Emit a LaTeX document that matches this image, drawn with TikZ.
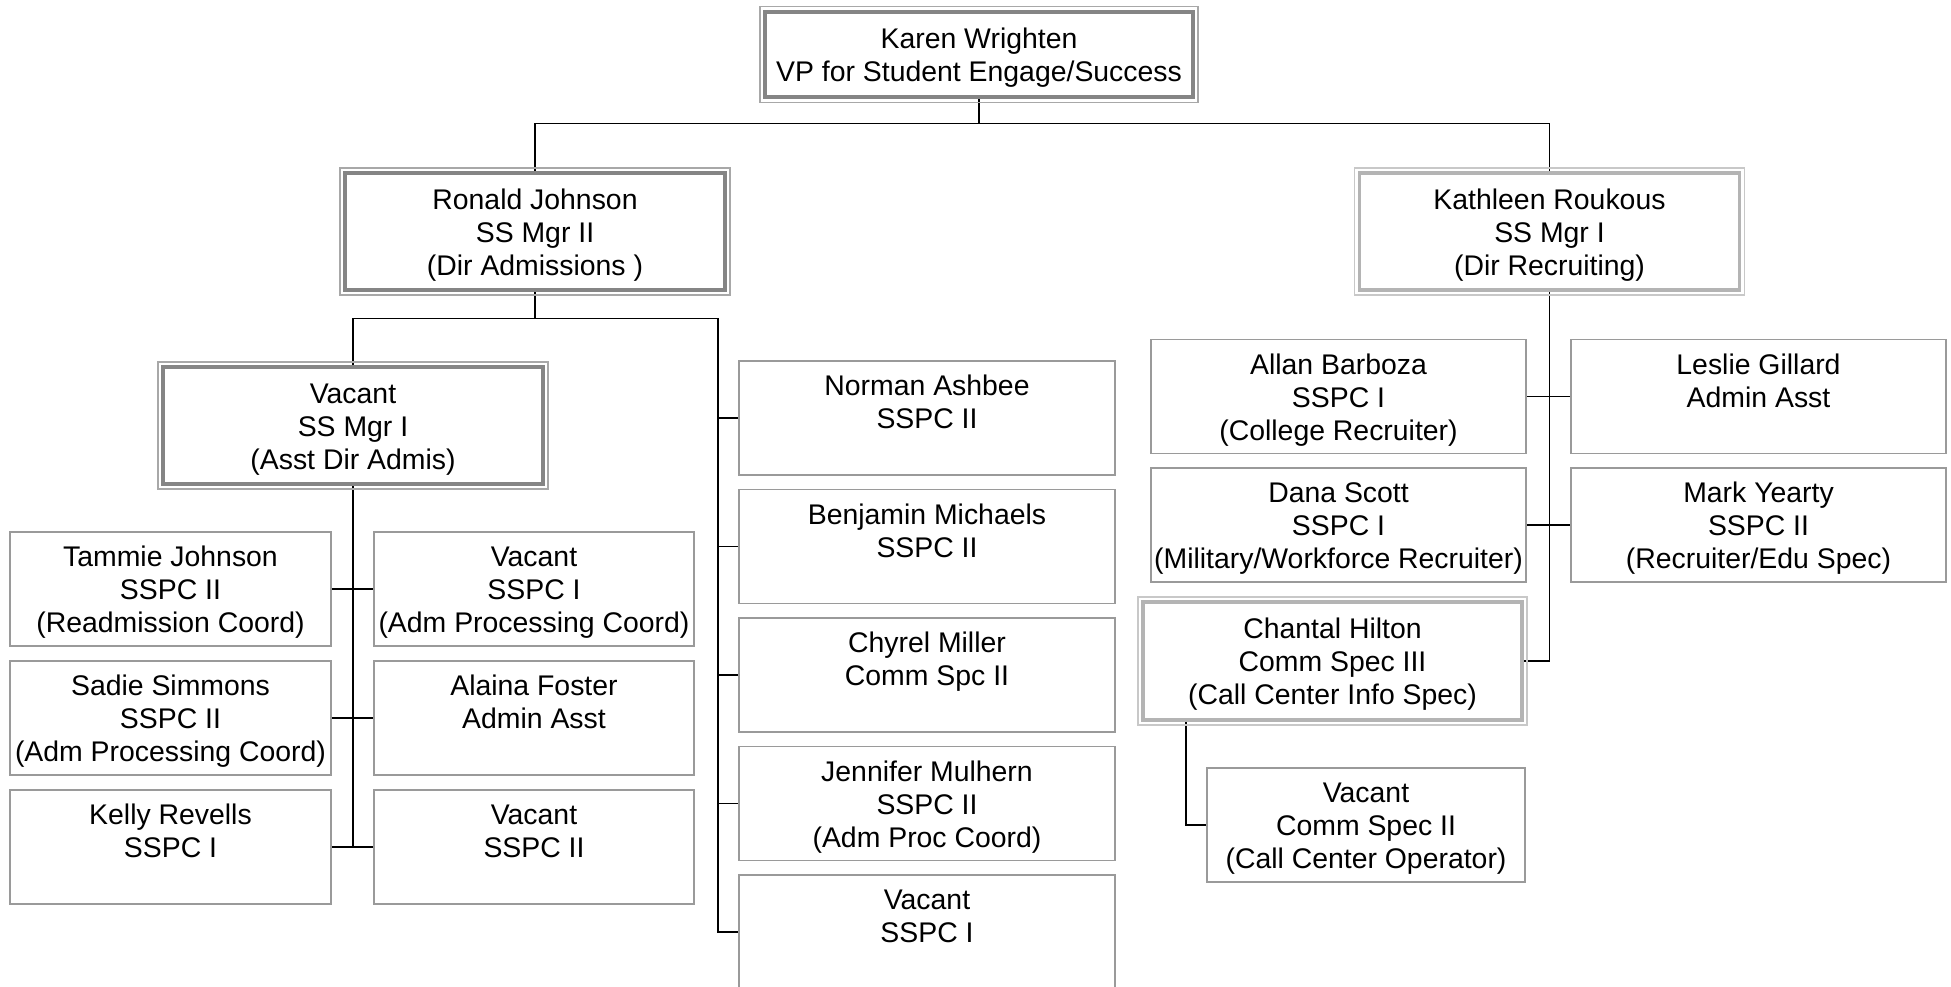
\documentclass[tikz,border=0pt]{standalone}
\usepackage{fontspec}
\setmainfont{Liberation Sans}
\usetikzlibrary{backgrounds}
\definecolor{boxgray}{HTML}{9A9A9A}
\definecolor{darkband}{HTML}{858585}
\definecolor{darkouter}{HTML}{A8A8A8}
\definecolor{lightband}{HTML}{B4B4B4}
\definecolor{lightouter}{HTML}{C8C8C8}
\newcommand{\emptyline}{\vphantom{(}}
\newcommand{\ft}{\rule{0pt}{27.5pt}}
\begin{document}
\begin{tikzpicture}[x=1pt,y=-1pt,
  txt/.style={font=\fontsize{28.4}{33}\selectfont, align=center, inner xsep=2pt, inner ysep=2pt},
  pbox/.style={txt, draw=boxgray, line width=1.3pt, fill=white, minimum height=114pt},
  mgrbox/.style={txt, draw=#1, line width=3.6pt, fill=white, outer sep=0pt},
  outerframe/.style={draw=#1, line width=1.3pt},
  conn/.style={draw=black, line width=1.8pt}]
\useasboundingbox (0,0) rectangle (1951,987);

% managers
\node[mgrbox=darkband, minimum width=428pt, minimum height=85.5pt] (top) at (979,54.5) {\ft Karen Wrighten\\VP for Student Engage/Success};
\node[mgrbox=darkband, minimum width=380pt, minimum height=117pt] (ron) at (535,231.5) {\ft Ronald Johnson\\SS Mgr II\\(Dir Admissions )};
\node[mgrbox=lightband, minimum width=380pt, minimum height=117pt] (kat) at (1549.5,231.5) {\ft Kathleen Roukous\\SS Mgr I\\(Dir Recruiting)};
\node[mgrbox=darkband, minimum width=380pt, minimum height=117pt] (asst) at (353,425.5) {\ft Vacant\\SS Mgr I\\(Asst Dir Admis)};
\node[mgrbox=lightband, minimum width=379pt, minimum height=118pt] (chan) at (1332.5,661) {\ft Chantal Hilton\\Comm Spec III\\(Call Center Info Spec)};

\foreach \n/\c in {top/darkouter, ron/darkouter, asst/darkouter, kat/lightouter, chan/lightouter}
  \draw[outerframe=\c] ([shift={(-5pt,5pt)}]\n.north west) rectangle ([shift={(5pt,-5pt)}]\n.south east);

% left group under Asst Dir
\node[pbox, minimum width=321pt] (l1) at (170.5,589) {\ft Tammie Johnson\\SSPC II\\(Readmission Coord)};
\node[pbox, minimum width=320pt] (r1) at (534,589) {\ft Vacant\\SSPC I\\(Adm Processing Coord)};
\node[pbox, minimum width=321pt] (l2) at (170.5,718) {\ft Sadie Simmons\\SSPC II\\(Adm Processing Coord)};
\node[pbox, minimum width=320pt] (r2) at (534,718) {\ft Alaina Foster\\Admin Asst\\\emptyline};
\node[pbox, minimum width=321pt] (l3) at (170.5,847) {\ft Kelly Revells\\SSPC I\\\emptyline};
\node[pbox, minimum width=320pt] (r3) at (534,847) {\ft Vacant\\SSPC II\\\emptyline};

% middle column under Ronald
\node[pbox, minimum width=376pt] (m1) at (927,418) {\ft Norman Ashbee\\SSPC II\\\emptyline};
\node[pbox, minimum width=376pt] (m2) at (927,546.5) {\ft Benjamin Michaels\\SSPC II\\\emptyline};
\node[pbox, minimum width=376pt] (m3) at (927,675) {\ft Chyrel Miller\\Comm Spc II\\\emptyline};
\node[pbox, minimum width=376pt] (m4) at (927,803.5) {\ft Jennifer Mulhern\\SSPC II\\(Adm Proc Coord)};
\node[pbox, minimum width=376pt] (m5) at (927,932) {\ft Vacant\\SSPC I\\\emptyline};

% right group under Kathleen
\node[pbox, minimum width=375pt] (k1) at (1338.5,396.5) {\ft Allan Barboza\\SSPC I\\(College Recruiter)};
\node[pbox, minimum width=375pt] (k2) at (1758.5,396.5) {\ft Leslie Gillard\\Admin Asst\\\emptyline};
\node[pbox, minimum width=375pt] (k3) at (1338.5,525) {\ft Dana Scott\\SSPC I\\(Military/Workforce Recruiter)};
\node[pbox, minimum width=375pt] (k4) at (1758.5,525) {\ft Mark Yearty\\SSPC II\\(Recruiter/Edu Spec)};
\node[pbox, minimum width=318pt] (vc) at (1366,825) {\ft Vacant\\Comm Spec II\\(Call Center Operator)};

\begin{scope}[on background layer]
\fill[white] (0,0) rectangle (1951,987);
\coordinate (b1) at (979,123.5);
\draw[conn] (top.south) -- (b1);
\draw[conn] (ron.north) |- (b1) -| (kat.north);
\coordinate (b2) at (535,318.5);
\coordinate (mx) at (718,318.5);
\draw[conn] (ron.south) -- (b2);
\draw[conn] (asst.north) |- (b2);
\draw[conn] (b2) -- (mx) |- (m5.west);
\foreach \i in {1,...,4} \draw[conn] (m\i.west) -- (m\i.west -| mx);
\draw[conn] (asst.south) -- (asst.south |- l3.east);
\foreach \i in {1,2,3} \draw[conn] (l\i.east) -- (r\i.west);
\draw[conn] (kat.south) |- (chan.east);
\draw[conn] (k1.east) -- (k2.west);
\draw[conn] (k3.east) -- (k4.west);
\draw[conn] ([xshift=43pt]chan.south west) |- (vc.west);
\end{scope}
\end{tikzpicture}
\end{document}
